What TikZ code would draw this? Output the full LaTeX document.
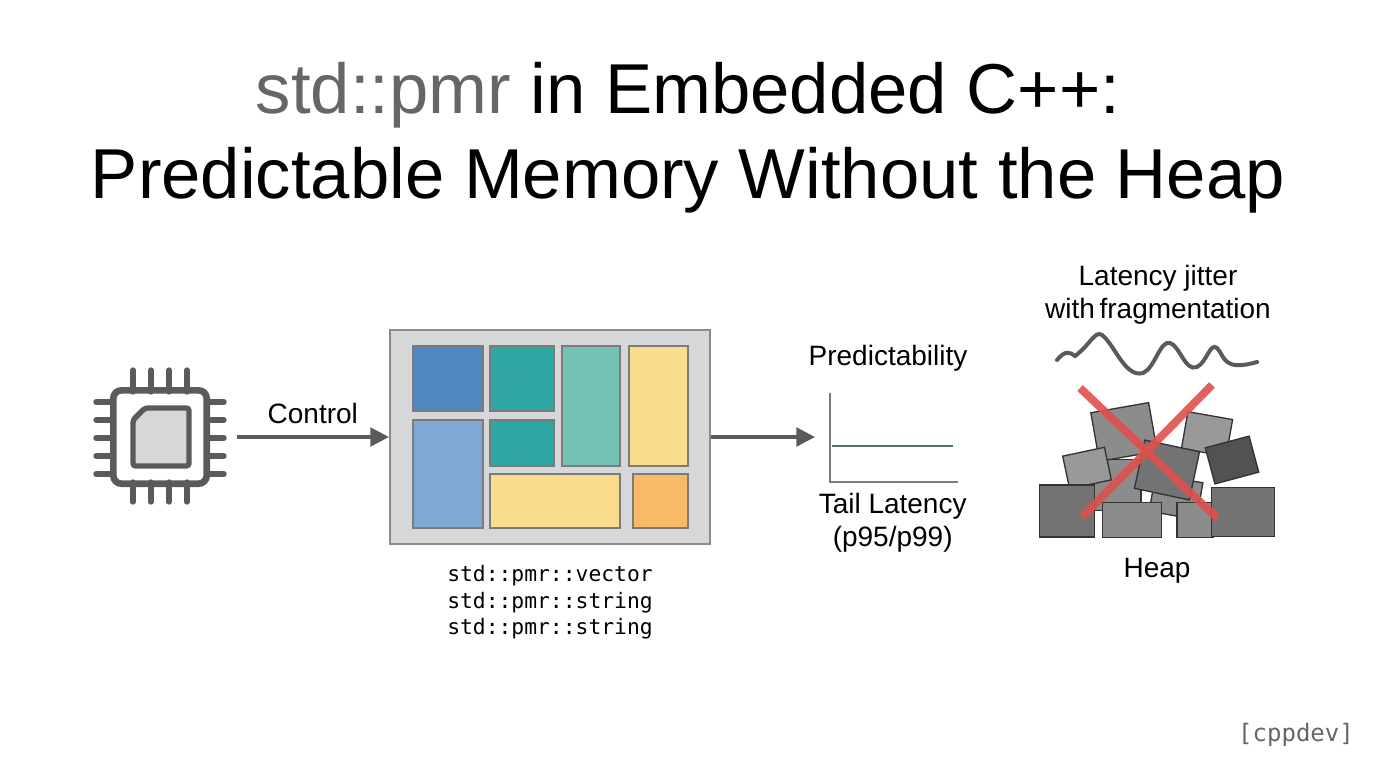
\documentclass[tikz,border=0pt]{standalone}
\usepackage{fontspec}
\setmainfont{Liberation Sans}
\setmonofont{DejaVu Sans Mono}
\usetikzlibrary{positioning, arrows.meta}
\definecolor{ink}{HTML}{5A5A5A}
\definecolor{boxgray}{HTML}{D6D7D9}
\definecolor{cblue}{HTML}{4F87C2}
\definecolor{clblue}{HTML}{7FA8D4}
\definecolor{cteal}{HTML}{2FA8A3}
\definecolor{clteal}{HTML}{72C2B5}
\definecolor{cyell}{HTML}{F9DD8D}
\definecolor{corange}{HTML}{F8B968}
\definecolor{cred}{HTML}{E0504A}
\tikzset{
  lbl/.style={font=\fontsize{21}{25}\selectfont, align=center, text=black},
  code/.style={font=\ttfamily\fontsize{16}{20}\selectfont, align=left},
  blk/.style={draw=ink!80, line width=1pt},
  heapblk/.style={draw=black!80, line width=1pt, minimum width=#1},
  flow/.style={-{Triangle[length=14pt,width=14pt]}, ink, line width=2.5pt},
  pin/.style={ink, line width=4pt, line cap=round}
}
\begin{document}
\begin{tikzpicture}[x=0.75pt,y=-0.75pt]
\useasboundingbox (0,0) rectangle (1376,768);
% title
\node[font=\fontsize{53}{60}\selectfont] (t1) at (688,95) {\textcolor{black!60}{std::pmr} in Embedded C++:};
\node[font=\fontsize{53}{60}\selectfont] (t2) at (688,180) {Predictable Memory Without the Heap};

% chip
\foreach \p in {133,151,169,187} {
  \draw[pin] (\p,370) -- (\p,392);
  \draw[pin] (\p,482) -- (\p,502);
}
\foreach \p in {402,420,438,456,474} {
  \draw[pin] (96,\p) -- (113,\p);
  \draw[pin] (207,\p) -- (224,\p);
}
\node[draw=ink, line width=5pt, rounded corners=6pt, minimum width=70pt, minimum height=70pt] (chip) at (160,437) {};
\draw[ink, line width=4pt, fill=boxgray, rounded corners=2pt] (133,420) -- (145,408) -- (189,408) -- (189,466) -- (133,466) -- cycle;

% memory pool
\node[draw=ink!70, fill=boxgray, line width=1.5pt, minimum width=240pt, minimum height=160pt] (pool) at (550,437) {};
\draw[blk, fill=cblue]   (413,346) rectangle (483,411);
\draw[blk, fill=cteal]   (490,346) rectangle (554,411);
\draw[blk, fill=clteal]  (562,346) rectangle (620,466);
\draw[blk, fill=cyell]   (629,346) rectangle (688,466);
\draw[blk, fill=clblue]  (413,420) rectangle (483,528);
\draw[blk, fill=cteal]   (490,420) rectangle (554,466);
\draw[blk, fill=cyell]   (490,474) rectangle (620,528);
\draw[blk, fill=corange] (633,474) rectangle (688,528);
\node[code, below=12pt of pool] (types) {std::pmr::vector\\std::pmr::string\\std::pmr::string};

\draw[flow] (chip.east) ++(20pt,0) coordinate (c0) -- (pool.west) node[midway, above=5pt, lbl] (ctl) {Control};

% predictability plot
\coordinate (top) at (830,393);
\coordinate (org) at (830,482);
\coordinate (xend) at (958,482);
\draw[ink!80, line width=1.5pt] (top) -- (org) -- (xend);
\draw[ink!70!cteal, line width=2pt] (832,446) -- (953,446);
\node[lbl] (pred) at (888,358) {Predictability};
\node[lbl, below=8pt of org, xshift=47pt, align=center, inner sep=0pt] (tail) {Tail Latency\\(p95/p99)};
\draw[flow] (pool.east) -- (815,437) coordinate (p0);

% heap
\node[lbl] (jit) at (1158,295) {Latency jitter\\with\,fragmentation};
\draw[ink, line width=3pt, line cap=round] (1057,360) .. controls (1065,350) and (1070,352) .. (1075,356)
  .. controls (1090,345) and (1095,330) .. (1102,335) .. controls (1115,345) and (1125,378) .. (1143,373)
  .. controls (1155,368) and (1160,340) .. (1170,343) .. controls (1180,346) and (1185,372) .. (1197,367)
  .. controls (1207,362) and (1210,342) .. (1217,348) .. controls (1225,356) and (1222,372) .. (1257,362);
\begin{scope}[every node/.style={heapblk=1pt, inner sep=0pt}]
\node[fill=black!45, minimum width=45pt, minimum height=38pt] (h1) at (1111,485) {};
\node[fill=black!45, minimum width=36pt, minimum height=28pt, rotate=-10] (h2) at (1176,497) {};
\node[fill=black!45, minimum width=44pt, minimum height=37pt, rotate=10] (h3) at (1124,432) {};
\node[fill=black!40, minimum width=34pt, minimum height=28pt, rotate=-10] (h4) at (1207,434) {};
\node[fill=black!40, minimum width=32pt, minimum height=25pt, rotate=12] (h5) at (1087,468) {};
\node[fill=black!55, minimum width=42pt, minimum height=37pt, rotate=-12] (h6) at (1167,470) {};
\node[fill=black!68, minimum width=34pt, minimum height=28pt, rotate=15] (h7) at (1232,460) {};
\node[fill=black!55, minimum width=41pt, minimum height=39pt] (h8) at (1067,511) {};
\node[fill=black!45, minimum width=44pt, minimum height=26pt] (h9) at (1132,520) {};
\node[fill=black!45, minimum width=27pt, minimum height=26pt] (h10) at (1195,520) {};
\node[fill=black!55, minimum width=47pt, minimum height=37pt] (h11) at (1243,512) {};
\end{scope}
\draw[cred, line width=6pt, opacity=0.9] (1080,388) -- (1217,518);
\draw[cred, line width=6pt, opacity=0.9] (1212,385) -- (1082,517);
\node[lbl] (heap) at (1157,571) {Heap};

\node[font=\ttfamily\fontsize{18}{22}\selectfont, text=black!60] (tag) at (1296,735) {[cppdev]};
\end{tikzpicture}
\end{document}
